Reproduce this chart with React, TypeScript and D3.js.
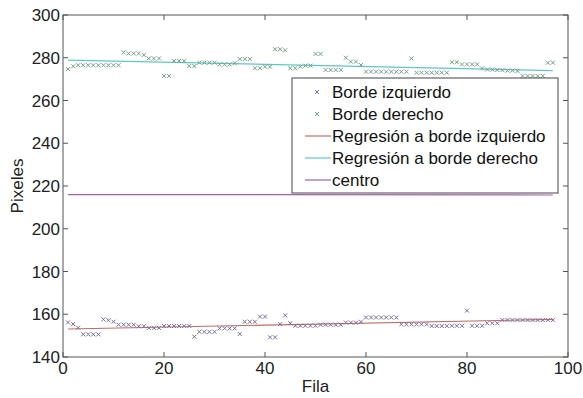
import { useEffect, useRef } from 'react';
import * as d3 from 'd3';

// Fila index of each sample is its position + 1
const bordeIzquierdo = [
  156.2, 155.4, 153.7, 150.6, 150.6, 150.6, 150.6, 157.6, 157.2, 156.5,
  155.1, 155.1, 155.1, 155.1, 154.4, 154.4, 153.6, 153.6, 153.6, 154.5,
  154.5, 154.5, 154.5, 154.5, 154.5, 149.5, 151.8, 151.8, 151.8, 151.8,
  153.4, 153.4, 153.4, 153.4, 150.8, 156.5, 156.5, 156.5, 158.9, 158.9,
  149.2, 149.2, 155.4, 159.5, 155.8, 154.6, 154.6, 154.6, 154.6, 154.6,
  155.1, 155.1, 155.1, 155.1, 155.1, 156.1, 156.1, 156.1, 156.5, 158.5,
  158.5, 158.5, 158.5, 158.5, 158.5, 158.5, 155.3, 155.3, 155.3, 155.3,
  155.3, 155.3, 154.5, 154.5, 154.5, 154.5, 154.6, 154.6, 154.6, 161.7,
  154.6, 154.6, 154.6, 155.8, 155.8, 155.8, 157.3, 157.3, 157.3, 157.3,
  157.3, 157.3, 157.3, 157.3, 157.3, 157.3, 157.3,
];

const bordeDerecho = [
  274.7, 276.0, 276.5, 276.5, 276.5, 276.5, 276.5, 276.5, 276.5, 276.5,
  276.5, 282.5, 282.0, 282.0, 282.0, 281.3, 279.7, 279.7, 279.7, 271.5,
  271.5, 278.5, 278.5, 278.5, 276.1, 276.1, 277.7, 277.7, 277.7, 277.7,
  276.9, 276.9, 276.9, 277.5, 279.4, 279.4, 279.4, 275.1, 275.1, 275.8,
  275.8, 284.0, 284.0, 283.5, 275.1, 275.1, 275.8, 276.3, 276.3, 281.8,
  281.8, 274.3, 274.3, 274.3, 274.3, 280.0, 278.2, 278.2, 276.6, 273.5,
  273.5, 273.5, 273.5, 273.5, 273.5, 273.5, 273.5, 273.5, 279.7, 273.0,
  273.0, 273.0, 273.0, 273.0, 273.0, 273.0, 277.9, 277.9, 276.9, 276.9,
  276.9, 276.9, 275.0, 274.5, 274.5, 274.3, 274.2, 274.0, 274.0, 273.8,
  271.5, 271.5, 271.5, 271.5, 271.5, 277.7, 277.7,
];

const lineX = [1, 97];
const regresionIzquierdo = [153.1, 157.6];
const regresionDerecho = [278.9, 274.0];
const centro = [216.0, 215.8];

const xTicks = [0, 20, 40, 60, 80, 100];
const yTicks = [140, 160, 180, 200, 220, 240, 260, 280, 300];

const W = 583;
const H = 398;
const FONT = '"Liberation Sans", Arial, sans-serif';

const COL_IZQ = '#7a6f9c';
const COL_DER = '#74a083';
const COL_REG_IZQ = '#c46a66';
const COL_REG_DER = '#5cc8c8';
const COL_CENTRO = '#a560a8';

export default function App() {
  const svgRef = useRef<SVGSVGElement>(null);

  useEffect(() => {
    if (!svgRef.current) return;
    const svg = d3.select(svgRef.current);
    svg.selectAll('*').remove();

    const margin = { top: 15, right: 15, bottom: 41, left: 63 };
    const innerW = W - margin.left - margin.right;
    const innerH = H - margin.top - margin.bottom;

    const x = d3.scaleLinear().domain([0, 100]).range([0, innerW]);
    const y = d3.scaleLinear().domain([140, 300]).range([innerH, 0]);

    svg.append('rect').attr('width', W).attr('height', H).attr('fill', '#fff');

    const g = svg.append('g').attr('transform', `translate(${margin.left},${margin.top})`);

    // straight lines
    const line = d3
      .line<[number, number]>()
      .x((d) => x(d[0]))
      .y((d) => y(d[1]));

    const lines: [number[], string][] = [
      [regresionIzquierdo, COL_REG_IZQ],
      [regresionDerecho, COL_REG_DER],
      [centro, COL_CENTRO],
    ];
    for (const [vals, col] of lines) {
      g.append('path')
        .datum(lineX.map((v, i) => [v, vals[i]] as [number, number]))
        .attr('d', line)
        .attr('fill', 'none')
        .attr('stroke', col)
        .attr('stroke-width', 1.2);
    }

    // x markers
    const cross = (sel: d3.Selection<SVGGElement, unknown, null, undefined>, vals: number[], col: string) => {
      const s = 2;
      const pts = sel
        .selectAll('g.pt')
        .data(vals)
        .join('g')
        .attr('class', 'pt')
        .attr('transform', (d, i) => `translate(${x(i + 1)},${y(d)})`);
      pts.append('line').attr('x1', -s).attr('y1', -s).attr('x2', s).attr('y2', s);
      pts.append('line').attr('x1', -s).attr('y1', s).attr('x2', s).attr('y2', -s);
      pts.selectAll('line').attr('stroke', col).attr('stroke-width', 1);
    };
    cross(g.append('g'), bordeIzquierdo, COL_IZQ);
    cross(g.append('g'), bordeDerecho, COL_DER);

    // box + ticks (inward, all four sides)
    const axisCol = '#555';
    g.append('rect')
      .attr('width', innerW)
      .attr('height', innerH)
      .attr('fill', 'none')
      .attr('stroke', axisCol)
      .attr('stroke-width', 1);

    const tl = 5;
    for (const t of xTicks) {
      g.append('line').attr('x1', x(t)).attr('x2', x(t)).attr('y1', innerH).attr('y2', innerH - tl).attr('stroke', axisCol);
      g.append('line').attr('x1', x(t)).attr('x2', x(t)).attr('y1', 0).attr('y2', tl).attr('stroke', axisCol);
      g.append('text')
        .attr('x', x(t))
        .attr('y', innerH + 17)
        .attr('text-anchor', 'middle')
        .attr('font-family', FONT)
        .attr('font-size', 17)
        .attr('fill', '#222')
        .text(t);
    }
    for (const t of yTicks) {
      g.append('line').attr('x1', 0).attr('x2', tl).attr('y1', y(t)).attr('y2', y(t)).attr('stroke', axisCol);
      g.append('line').attr('x1', innerW).attr('x2', innerW - tl).attr('y1', y(t)).attr('y2', y(t)).attr('stroke', axisCol);
      g.append('text')
        .attr('x', -3)
        .attr('y', y(t))
        .attr('dy', '0.36em')
        .attr('text-anchor', 'end')
        .attr('font-family', FONT)
        .attr('font-size', 17)
        .attr('fill', '#222')
        .text(t);
    }

    // axis labels
    svg.append('text')
      .attr('x', margin.left + innerW / 2)
      .attr('y', 392)
      .attr('text-anchor', 'middle')
      .attr('font-family', FONT)
      .attr('font-size', 17)
      .attr('fill', '#222')
      .text('Fila');
    svg.append('text')
      .attr('transform', `translate(23,${margin.top + innerH / 2}) rotate(-90)`)
      .attr('text-anchor', 'middle')
      .attr('font-family', FONT)
      .attr('font-size', 17)
      .attr('fill', '#222')
      .text('Pixeles');

    // legend
    const lg = svg.append('g').attr('transform', 'translate(292,78)');
    lg.append('rect').attr('width', 266).attr('height', 115).attr('fill', '#fff').attr('stroke', '#444');
    const entries: { label: string; col: string; kind: 'marker' | 'line' }[] = [
      { label: 'Borde izquierdo', col: COL_IZQ, kind: 'marker' },
      { label: 'Borde derecho', col: COL_DER, kind: 'marker' },
      { label: 'Regresión a borde izquierdo', col: COL_REG_IZQ, kind: 'line' },
      { label: 'Regresión a borde derecho', col: COL_REG_DER, kind: 'line' },
      { label: 'centro', col: COL_CENTRO, kind: 'line' },
    ];
    entries.forEach((e, i) => {
      const cy = 14 + i * 22;
      if (e.kind === 'marker') {
        const s = 2;
        lg.append('line').attr('x1', 25 - s).attr('x2', 25 + s).attr('y1', cy - s).attr('y2', cy + s).attr('stroke', e.col);
        lg.append('line').attr('x1', 25 - s).attr('x2', 25 + s).attr('y1', cy + s).attr('y2', cy - s).attr('stroke', e.col);
      } else {
        lg.append('line').attr('x1', 13).attr('x2', 39).attr('y1', cy).attr('y2', cy).attr('stroke', e.col).attr('stroke-width', 1.2);
      }
      lg.append('text')
        .attr('x', 40)
        .attr('y', cy)
        .attr('dy', '0.36em')
        .attr('font-family', FONT)
        .attr('font-size', 17)
        .attr('fill', '#111')
        .text(e.label);
    });
  }, []);

  return (
    <div style={{ position: 'fixed', left: 0, top: 0, width: W, height: H }}>
      <svg ref={svgRef} width={W} height={H} style={{ display: 'block' }} />
    </div>
  );
}
